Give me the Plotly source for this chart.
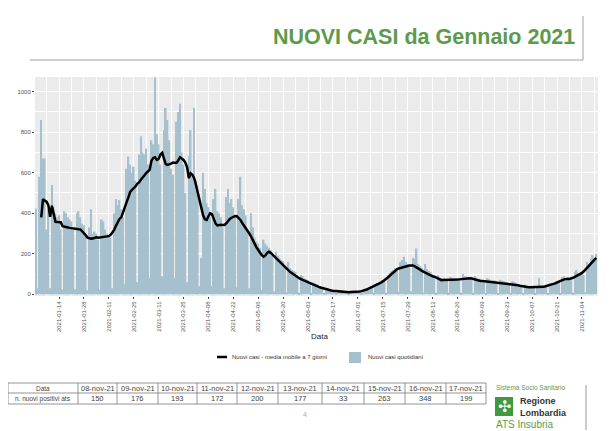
import plotly.graph_objects as go
import pandas as pd

W, H = 610, 431
# la pagina html ha un margine di 8px attorno al grafico
OFF = 8

# nuovi casi quotidiani, dal 1 gennaio 2021
cases_jan = [424, 30, 580, 860, 670, 670, 320, 420, 30, 540, 430, 400, 380, 390, 320, 25,
             410, 400, 380, 370, 360, 320, 25, 400, 410, 380, 350, 340, 290, 20, 330]
cases_feb = [420, 300, 310, 300, 270, 25, 370, 360, 320, 300, 290, 280, 30, 400, 470, 440,
             465, 420, 380, 50, 620, 680, 640, 600, 630, 560, 60, 690]
cases_mar = [780, 700, 690, 720, 640, 80, 760, 740, 1070, 790, 740, 640, 90, 810, 920, 860,
             760, 620, 590, 80, 850, 900, 940, 700, 640, 500, 60, 680, 810, 590, 920]
cases_apr = [560, 490, 40, 180, 600, 520, 450, 430, 380, 40, 470, 520, 410, 400, 380, 330,
             30, 480, 520, 450, 470, 430, 380, 35, 470, 580, 440, 420, 390, 310]
cases_may = [30, 400, 330, 280, 260, 250, 230, 20, 270, 250, 240, 230, 220, 190, 15, 210,
             190, 180, 170, 165, 130, 10, 160, 130, 120, 115, 110, 95, 8, 95, 90]
cases_jun = [80, 75, 70, 55, 5, 60, 55, 50, 45, 40, 35, 4, 32, 30, 26, 24, 22, 18, 3, 18,
             17, 15, 14, 13, 12, 2, 15, 14, 14, 15]
cases_jul = [14, 14, 3, 22, 24, 27, 30, 34, 32, 5, 52, 56, 58, 62, 68, 66, 8, 95, 105, 115,
             120, 130, 125, 12, 160, 170, 185, 160, 150, 140, 15]
cases_aug = [180, 175, 227, 150, 140, 130, 10, 150, 125, 115, 110, 100, 90, 8, 95, 85, 80,
             80, 78, 70, 8, 85, 82, 80, 80, 78, 75, 8, 100, 90, 88]
cases_sep = [85, 85, 75, 8, 90, 80, 75, 72, 70, 65, 6, 80, 75, 70, 70, 68, 62, 6, 72, 68,
             65, 62, 60, 55, 5, 65, 62, 55, 50, 48]
cases_oct = [42, 4, 48, 42, 40, 40, 38, 36, 4, 40, 80, 40, 38, 36, 38, 5, 55, 55, 52, 55,
             58, 55, 6, 85, 90, 80, 75, 78, 70, 8, 110]
cases_nov = [120, 105, 100, 105, 95, 10, 160, 150, 176, 193, 172, 200]

# media mobile a 7 giorni
ma_jan = [None, None, None, 380, 470, 462, 457, 440, 383, 437, 400, 358, 357, 358, 356, 336,
          333, 332, 330, 328, 326, 324, 322, 321, 321, 320, 312, 302, 292, 280, 276]
ma_feb = [275, 276, 278, 281, 279, 280, 282, 281, 283, 286, 288, 294, 305, 318, 338, 358,
          372, 380, 408, 432, 455, 478, 505, 515, 522, 532, 545, 552]
ma_mar = [565, 578, 589, 598, 606, 615, 660, 672, 676, 663, 668, 690, 698, 670, 642, 638,
          640, 645, 650, 648, 648, 660, 676, 670, 663, 650, 628, 573, 597, 590, 573]
ma_apr = [540, 498, 460, 420, 390, 370, 367, 385, 400, 395, 370, 350, 340, 342, 343, 342,
          342, 350, 362, 372, 378, 383, 386, 385, 378, 367, 352, 340, 326, 312]
ma_may = [300, 285, 265, 248, 232, 219, 205, 193, 186, 192, 204, 210, 205, 196, 188, 178,
          168, 161, 152, 144, 136, 128, 117, 110, 104, 97, 91, 85, 80, 75, 71]
ma_jun = [67, 62, 58, 54, 50, 46, 43, 40, 37, 34, 31, 28, 25, 23, 21, 19, 18, 17, 15, 14,
          13, 12, 12, 11, 11, 11, 12, 12, 12, 13]
ma_jul = [13, 14, 16, 18, 21, 24, 28, 32, 36, 40, 44, 48, 52, 58, 64, 70, 76, 84, 93, 102,
          110, 118, 124, 128, 131, 133, 134, 137, 140, 142, 143]
ma_aug = [142, 138, 134, 129, 122, 116, 111, 107, 102, 97, 93, 89, 87, 82, 76, 71, 70, 71,
          71, 72, 71, 70, 71, 71, 72, 73, 74, 75, 77, 79, 80]
ma_sep = [80, 79, 78, 75, 72, 69, 67, 66, 66, 65, 64, 64, 63, 62, 62, 61, 60, 58, 57, 57,
          56, 55, 54, 53, 52, 51, 49, 47, 45, 43]
ma_oct = [41, 39, 37, 36, 35, 35, 35, 35, 35, 35, 35, 36, 37, 39, 41, 43, 46, 49, 52, 55,
          58, 62, 66, 70, 74, 76, 77, 76, 78, 82, 86]
ma_nov = [90, 94, 99, 106, 114, 122, 132, 142, 152, 162, 171, 180]

tick_labels = ["2021-01-14", "2021-01-28", "2021-02-11", "2021-02-25", "2021-03-11",
               "2021-03-25", "2021-04-08", "2021-04-22", "2021-05-06", "2021-05-20",
               "2021-06-03", "2021-06-17", "2021-07-01", "2021-07-15", "2021-07-29",
               "2021-08-12", "2021-08-26", "2021-09-09", "2021-09-23", "2021-10-07",
               "2021-10-21", "2021-11-04"]
y_ticks = [0, 200, 400, 600, 800, 1000]

table_dates = ["08-nov-21", "09-nov-21", "10-nov-21", "11-nov-21", "12-nov-21",
               "13-nov-21", "14-nov-21", "15-nov-21", "16-nov-21", "17-nov-21"]
table_values = [150, 176, 193, 172, 200, 177, 33, 263, 348, 199]

cases = (cases_jan + cases_feb + cases_mar + cases_apr + cases_may + cases_jun +
         cases_jul + cases_aug + cases_sep + cases_oct + cases_nov)
ma = (ma_jan + ma_feb + ma_mar + ma_apr + ma_may + ma_jun +
      ma_jul + ma_aug + ma_sep + ma_oct + ma_nov)
dates = pd.date_range("2021-01-01", periods=len(cases), freq="D")

major_x = pd.to_datetime(tick_labels)
minor_x = list(major_x - pd.Timedelta(days=7)) + [major_x[-1] + pd.Timedelta(days=7)]

GREEN = "#5c9a4c"
BAR = "#a6c0ce"
FONT = "Liberation Sans, Arial, sans-serif"


def px(x):
    # posizione in pixel della pagina -> coordinata paper
    return (x - OFF) / W


def py(y):
    return 1 - (y - OFF) / H


fig = go.Figure()
fig.add_trace(go.Bar(x=dates, y=cases, marker_color=BAR, marker_line_width=0,
                     name="Nuovi casi quotidiani"))
fig.add_trace(go.Scatter(x=dates, y=ma, mode="lines", line=dict(color="black", width=2.5),
                         name="Nuovi casi - media mobile a 7 giorni"))

fig.update_layout(template="none", width=W, height=H, margin=dict(l=0, r=0, t=0, b=0),
                  paper_bgcolor="white", plot_bgcolor="#ebebeb", showlegend=False,
                  bargap=0.1, font=dict(family=FONT))
fig.update_xaxes(domain=[px(35), px(598)], range=["2020-12-31 12:00", "2021-11-13"],
                 tickvals=major_x, ticktext=tick_labels, tickangle=-90,
                 tickfont=dict(size=6, color="#555555"), ticks="outside", ticklen=2,
                 tickcolor="#444444", showgrid=True, gridcolor="white", gridwidth=1,
                 minor=dict(tickvals=minor_x, showgrid=True, gridcolor="white",
                            gridwidth=0.5, ticks=""),
                 zeroline=False, showline=False, automargin=False)
fig.update_yaxes(domain=[py(296), py(77)], range=[-8, 1072], tickvals=y_ticks,
                 tickfont=dict(size=6, color="#555555"), ticks="outside", ticklen=2,
                 tickcolor="#444444", showgrid=True, gridcolor="white", gridwidth=1,
                 minor=dict(dtick=100, tick0=0, showgrid=True, gridcolor="white",
                            gridwidth=0.5, ticks=""),
                 zeroline=False, showline=False, automargin=False)

shapes = []
ann = []

# titolo della slide
shapes.append(dict(type="line", xref="paper", yref="paper", x0=px(30), x1=px(583),
                   y0=py(60), y1=py(60), line=dict(color="#a0a0a0", width=1)))
shapes.append(dict(type="line", xref="paper", yref="paper", x0=px(583), x1=px(583),
                   y0=py(16), y1=py(60), line=dict(color="#a0a0a0", width=1)))
ann.append(dict(text="<b>NUOVI CASI da Gennaio 2021</b>", x=px(577), y=py(37),
                xanchor="right", yanchor="middle", font=dict(size=21.5, color=GREEN)))

# titolo asse e legenda
ann.append(dict(text="Data", x=px(319), y=py(336), xanchor="center", yanchor="middle",
                font=dict(size=8, color="#222222")))
shapes.append(dict(type="line", xref="paper", yref="paper", x0=px(217), x1=px(227),
                   y0=py(357), y1=py(357), line=dict(color="black", width=2.5)))
ann.append(dict(text="Nuovi casi - media mobile a 7 giorni", x=px(230), y=py(357),
                xanchor="left", yanchor="middle", font=dict(size=6, color="#333333")))
shapes.append(dict(type="rect", xref="paper", yref="paper", x0=px(349), x1=px(361),
                   y0=py(363), y1=py(352), fillcolor=BAR, line=dict(width=0)))
ann.append(dict(text="Nuovi casi quotidiani", x=px(366), y=py(357), xanchor="left",
                yanchor="middle", font=dict(size=6, color="#333333")))

# tabella
col_edges = [8, 78, 117, 158, 197, 237, 278, 322, 364, 405, 446, 486]
row_edges = [383, 393, 404]
for ry in row_edges:
    shapes.append(dict(type="line", xref="paper", yref="paper", x0=px(col_edges[0]),
                       x1=px(col_edges[-1]), y0=py(ry), y1=py(ry),
                       line=dict(color="#7a7a7a", width=0.8)))
for cx in col_edges:
    shapes.append(dict(type="line", xref="paper", yref="paper", x0=px(cx), x1=px(cx),
                       y0=py(row_edges[0]), y1=py(row_edges[-1]),
                       line=dict(color="#7a7a7a", width=0.8)))
row1 = ["Data"] + table_dates
row2 = ["n. nuovi positivi ats"] + [str(v) for v in table_values]
for i in range(len(row1)):
    cx = (col_edges[i] + col_edges[i + 1]) / 2
    size = 6.5 if i == 0 else 7.5
    ann.append(dict(text=row1[i], x=px(cx), y=py(388), xanchor="center", yanchor="middle",
                    font=dict(size=size, color="#444444")))
    ann.append(dict(text=row2[i], x=px(cx), y=py(398.5), xanchor="center",
                    yanchor="middle", font=dict(size=size, color="#444444")))

ann.append(dict(text="4", x=px(305), y=py(414), xanchor="center", yanchor="middle",
                font=dict(size=7, color="#aaaaaa")))

# logo
ann.append(dict(text="Sistema Socio Sanitario", x=px(494), y=py(387), xanchor="left",
                yanchor="middle", font=dict(size=6.5, color=GREEN)))
shapes.append(dict(type="rect", xref="paper", yref="paper", x0=px(495), x1=px(513),
                   y0=py(416), y1=py(397), fillcolor="#3f9a3f", line=dict(width=0)))
ann.append(dict(text="✣", x=px(504), y=py(406.5), xanchor="center", yanchor="middle",
                font=dict(size=16, color="white", family="DejaVu Sans")))
ann.append(dict(text="<b>Regione<br>Lombardia</b>", x=px(518), y=py(406.5), xanchor="left",
                yanchor="middle", align="left", font=dict(size=9, color="#333333")))
ann.append(dict(text="ATS Insubria", x=px(494), y=py(424.5), xanchor="left",
                yanchor="middle", font=dict(size=10, color=GREEN)))
shapes.append(dict(type="line", xref="paper", yref="paper", x0=px(586), x1=px(586),
                   y0=py(385), y1=py(430), line=dict(color="#999999", width=1)))

for a in ann:
    a.update(xref="paper", yref="paper", showarrow=False)
fig.update_layout(shapes=shapes, annotations=ann)

fig.write_html("out.html")
